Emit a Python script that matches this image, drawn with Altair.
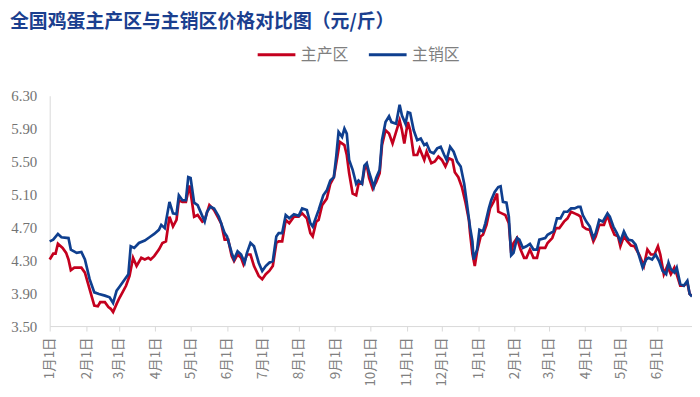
import altair as alt
import pandas as pd

series_names = ["主产区", "主销区"]

# day offsets from 2023-01-01, and prices (元/斤)
red_days = [
    0, 3, 5, 7, 11, 14, 16, 18, 21, 27,
    30, 34, 38, 41, 43, 47, 50, 52, 54, 57,
    59, 62, 65, 68, 71, 74, 78, 81, 84, 86,
    89, 93, 96, 99, 102, 105, 108, 110, 113, 116,
    119, 121, 123, 126, 130, 132, 136, 140, 143, 146,
    149, 152, 155, 157, 160, 163, 165, 168, 171, 174,
    178, 181, 184, 187, 190, 193, 195, 198, 201, 204,
    208, 212, 215, 219, 222, 224, 227, 229, 232, 236,
    239, 242, 245, 247, 251, 253, 255, 258, 261, 263,
    266, 268, 270, 272, 275, 278, 281, 283, 286, 289,
    292, 295, 298, 300, 302, 305, 307, 310, 313, 315,
    319, 321, 325, 328, 331, 334, 337, 340, 343, 345,
    348, 351, 354, 357, 358, 360, 362, 364, 367, 369,
    372, 375, 378, 381, 382, 385, 388, 391, 393, 395,
    398, 401, 404, 406, 409, 412, 415, 417, 422, 424,
    428, 431, 434, 438, 441, 444, 447, 450, 452, 454,
    457, 460, 463, 465, 468, 472, 475, 478, 481, 484,
    486, 489, 492, 495, 498, 502, 506, 509, 512, 515,
    518, 520, 523, 526, 529, 532, 534, 537, 540, 543,
    545, 547,
]
red_vals = [
    4.31, 4.38, 4.38, 4.50, 4.45, 4.39, 4.31, 4.18, 4.21, 4.21,
    4.15, 3.95, 3.75, 3.74, 3.79, 3.79, 3.73, 3.71, 3.67, 3.77,
    3.83, 3.91, 3.99, 4.11, 4.33, 4.23, 4.33, 4.31, 4.33, 4.31,
    4.35, 4.43, 4.51, 4.53, 4.83, 4.71, 4.79, 5.03, 5.01, 5.01,
    5.21, 5.03, 4.83, 4.85, 4.77, 4.79, 4.97, 4.91, 4.83, 4.75,
    4.55, 4.55, 4.35, 4.29, 4.37, 4.33, 4.25, 4.37, 4.37, 4.23,
    4.11, 4.07, 4.13, 4.17, 4.23, 4.51, 4.53, 4.53, 4.79, 4.75,
    4.83, 4.83, 4.87, 4.81, 4.63, 4.59, 4.77, 4.79, 4.97, 5.05,
    5.23, 5.31, 5.56, 5.74, 5.70, 5.58, 5.36, 5.11, 5.09, 5.23,
    5.23, 5.40, 5.46, 5.30, 5.17, 5.25, 5.36, 5.70, 5.88, 5.84,
    5.72, 5.86, 6.00, 5.88, 5.72, 5.98, 5.88, 5.58, 5.58, 5.66,
    5.52, 5.62, 5.48, 5.50, 5.56, 5.52, 5.44, 5.54, 5.52, 5.37,
    5.31, 5.19, 5.01, 4.79, 4.63, 4.38, 4.23, 4.41, 4.59, 4.61,
    4.73, 4.93, 5.01, 5.11, 4.89, 4.87, 4.85, 4.75, 4.39, 4.51,
    4.57, 4.43, 4.33, 4.33, 4.43, 4.33, 4.33, 4.45, 4.45, 4.51,
    4.57, 4.69, 4.69, 4.77, 4.81, 4.89, 4.87, 4.85, 4.83, 4.71,
    4.68, 4.67, 4.53, 4.59, 4.73, 4.73, 4.85, 4.71, 4.61, 4.59,
    4.47, 4.59, 4.53, 4.48, 4.47, 4.37, 4.23, 4.43, 4.37, 4.37,
    4.47, 4.37, 4.13, 4.23, 4.13, 4.21, 4.13, 3.99, 3.99, 4.03,
    3.89, 3.87,
]

blue_days = [
    0, 3, 7, 10, 16, 18, 23, 27, 30, 34,
    38, 42, 47, 51, 54, 57, 59, 64, 67, 69,
    72, 76, 81, 85, 89, 93, 95, 98, 102, 105,
    108, 110, 113, 116, 118, 120, 123, 126, 129, 132,
    134, 137, 140, 144, 149, 151, 155, 157, 160, 163,
    166, 168, 171, 174, 178, 181, 184, 187, 190, 193,
    195, 198, 201, 204, 208, 212, 215, 219, 222, 224,
    227, 229, 233, 236, 239, 242, 244, 246, 249, 251,
    253, 255, 258, 261, 263, 266, 268, 270, 272, 276,
    278, 281, 283, 286, 289, 291, 295, 298, 300, 303,
    305, 307, 310, 313, 316, 319, 321, 324, 327, 330,
    333, 336, 338, 341, 344, 347, 350, 353, 355, 358,
    360, 361, 364, 366, 369, 371, 374, 376, 379, 382,
    384, 386, 389, 391, 393, 395, 398, 400, 403, 406,
    409, 412, 415, 417, 422, 424, 429, 432, 435, 438,
    441, 444, 447, 450, 452, 454, 457, 460, 463, 465,
    468, 471, 475, 477, 480, 483, 486, 489, 491, 493,
    496, 499, 502, 505, 508, 510, 513, 516, 519, 522,
    525, 527, 529, 532, 534, 537, 540, 543, 545, 547,
]
blue_vals = [
    4.53, 4.55, 4.62, 4.58, 4.57, 4.43, 4.39, 4.40, 4.31, 4.07,
    3.91, 3.89, 3.87, 3.85, 3.78, 3.93, 3.97, 4.07, 4.13, 4.47,
    4.45, 4.51, 4.54, 4.58, 4.62, 4.67, 4.73, 4.69, 5.01, 4.87,
    4.86, 5.09, 5.03, 5.03, 5.31, 5.30, 5.00, 4.97, 4.87, 4.77,
    4.89, 4.95, 4.93, 4.83, 4.63, 4.59, 4.39, 4.31, 4.41, 4.37,
    4.27, 4.39, 4.51, 4.47, 4.27, 4.17, 4.23, 4.27, 4.29, 4.59,
    4.63, 4.63, 4.85, 4.81, 4.86, 4.84, 4.93, 4.91, 4.75, 4.71,
    4.83, 4.91, 5.09, 5.15, 5.27, 5.31, 5.56, 5.86, 5.80, 5.90,
    5.84, 5.52, 5.40, 5.23, 5.27, 5.23, 5.45, 5.48, 5.37, 5.19,
    5.30, 5.40, 5.76, 5.98, 6.05, 5.98, 5.96, 6.19, 6.06, 5.96,
    6.10, 6.09, 5.88, 5.76, 5.78, 5.70, 5.72, 5.62, 5.60, 5.66,
    5.68, 5.58, 5.52, 5.68, 5.62, 5.50, 5.44, 5.23, 5.02, 4.70,
    4.53, 4.31, 4.43, 4.67, 4.65, 4.75, 4.93, 5.03, 5.13, 5.19,
    5.20, 5.01, 5.00, 4.83, 4.36, 4.39, 4.57, 4.55, 4.45, 4.47,
    4.50, 4.43, 4.43, 4.55, 4.57, 4.61, 4.65, 4.81, 4.81, 4.89,
    4.89, 4.93, 4.93, 4.95, 4.95, 4.85, 4.77, 4.71, 4.57, 4.63,
    4.79, 4.77, 4.87, 4.83, 4.71, 4.63, 4.53, 4.65, 4.59, 4.55,
    4.54, 4.49, 4.35, 4.21, 4.31, 4.33, 4.31, 4.37, 4.29, 4.17,
    4.13, 4.27, 4.19, 4.15, 4.21, 4.01, 3.99, 4.05, 3.89, 3.86,
]

y_ticks = [3.50, 3.90, 4.30, 4.70, 5.10, 5.50, 5.90, 6.30]
title_text = "全国鸡蛋主产区与主销区价格对比图（元/斤）"

start = pd.Timestamp("2023-01-01")


def to_frame(days, vals, name):
    dates = (start + pd.to_timedelta(days, unit="D")).strftime("%Y-%m-%d")
    return pd.DataFrame({"date": dates, "price": vals, "series": name})


df = pd.concat(
    [to_frame(red_days, red_vals, series_names[0]),
     to_frame(blue_days, blue_vals, series_names[1])],
    ignore_index=True,
)

month_ticks = [alt.DateTime(year=2023 + (m // 12), month=(m % 12) + 1, date=1, utc=True)
               for m in range(0, 19)]

RED = "#C4001E"
BLUE = "#0F3F8F"
GRAY_LINE = "#D9D9D9"

chart = (
    alt.Chart(df)
    .mark_line(strokeWidth=2.7)
    .encode(
        x=alt.X(
            "date:T",
            scale=alt.Scale(
                type="utc",
                domain=[alt.DateTime(year=2023, month=1, date=1, utc=True),
                        alt.DateTime(year=2024, month=7, date=1, utc=True)],
            ),
            axis=alt.Axis(
                title=None,
                values=month_ticks,
                labelExpr="utcyear(datum.value) == 2024 && utcmonth(datum.value) == 6 ? '' : utcFormat(datum.value, '%-m月%-d日')",
                labelAngle=-90,
                labelFont="Noto Sans CJK SC",
                labelFontSize=13.5,
                labelColor="#808080",
                labelPadding=6,
                labelOverlap=False,
                labelFlush=False,
                domainColor=GRAY_LINE,
                tickColor=GRAY_LINE,
                tickSize=5,
                grid=False,
            ),
        ),
        y=alt.Y(
            "price:Q",
            scale=alt.Scale(domain=[3.5, 6.3], nice=False, zero=False),
            axis=alt.Axis(
                title=None,
                values=y_ticks,
                format=".2f",
                labelFont="Liberation Serif",
                labelFontSize=15,
                labelColor="#737373",
                labelPadding=13,
                ticks=False,
                domainColor=GRAY_LINE,
                grid=False,
            ),
        ),
        color=alt.Color(
            "series:N",
            scale=alt.Scale(domain=series_names, range=[RED, BLUE]),
            legend=alt.Legend(
                title=None,
                orient="none",
                direction="horizontal",
                legendX=208,
                legendY=-62,
                symbolType="stroke",
                symbolSize=1444,
                symbolStrokeWidth=3,
                labelFont="Noto Sans CJK SC",
                labelFontSize=16,
                labelColor="#7F7F7F",
                labelOffset=4,
                columnPadding=13,
            ),
        ),
    )
    .properties(
        width=647,
        height=232,
        title=alt.TitleParams(
            text=title_text,
            anchor="start",
            frame="group",
            dx=-40,
            offset=2,
            font="Noto Sans CJK SC",
            fontSize=19,
            fontWeight="bold",
            color="#1B3F8F",
        ),
        autosize=alt.AutoSizeParams(type="none"),
        padding={"left": 42, "top": 87, "right": 0, "bottom": 62},
    )
    .configure_view(stroke=None)
)

chart.save("out.html", embed_options={"renderer": "svg", "actions": False})
